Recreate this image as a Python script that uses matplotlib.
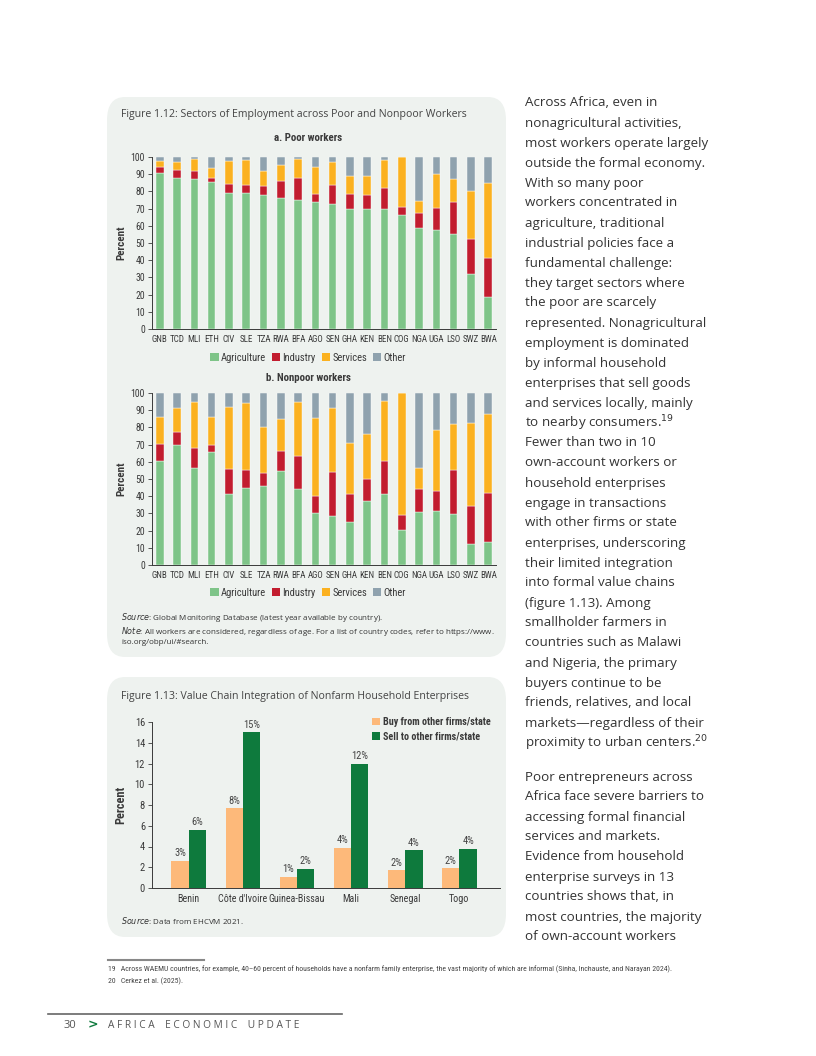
import matplotlib
matplotlib.use("Agg")
from matplotlib import pyplot as plt
from matplotlib import font_manager
from matplotlib.patches import FancyBboxPatch, Patch
import numpy as np

W, H = 816, 1056

# ---- data ----
countries = ["GNB", "TCD", "MLI", "ETH", "CIV", "SLE", "TZA", "RWA", "BFA", "AGO",
             "SEN", "GHA", "KEN", "BEN", "COG", "NGA", "UGA", "LSO", "SWZ", "BWA"]

# poor workers, shares in percent
poor_agri = [90.5, 88, 87.5, 85.5, 79, 79, 78, 76, 75, 74, 72.5, 70, 70, 69.5, 66.5, 58.5, 57.5, 55.5, 32, 18.5]
poor_ind = [3.5, 4.5, 4.5, 2.5, 5.5, 5, 5, 10, 13, 4.5, 11.5, 8.5, 8, 12.5, 4.5, 9, 13, 18.5, 20.5, 22.5]
poor_serv = [3.5, 4.5, 7, 5.5, 13, 14.5, 9, 9.5, 11, 15.5, 13, 10.5, 11, 16.5, 29, 7, 19.5, 13, 28, 44]
poor_other = [2.5, 3, 1, 6.5, 2.5, 1.5, 8, 4.5, 1, 6, 3, 11, 11, 1.5, 0, 25.5, 10, 13, 19.5, 15]

# nonpoor workers, shares in percent
nonpoor_agri = [60.5, 70, 56.5, 65.5, 41.5, 45, 46, 54.5, 44, 30, 28.5, 25, 37, 41, 20.5, 31, 31.5, 29.5, 12.5, 13.5]
nonpoor_ind = [10, 7.5, 11.5, 4.5, 14.5, 10, 7.5, 12, 19.5, 10, 25.5, 16, 13, 19.5, 8.5, 13, 11.5, 26, 22, 28.5]
nonpoor_serv = [15.5, 13.5, 27, 16, 36, 39, 26.5, 18.5, 31.5, 45.5, 37, 30, 26, 35, 71, 12.5, 35.5, 26.5, 48, 46]
nonpoor_other = [14, 9, 5, 14, 8, 6, 20, 15, 5, 14.5, 9, 29, 24, 4.5, 0, 43.5, 21.5, 18, 17.5, 12]

sectors = ["Agriculture", "Industry", "Services", "Other"]
sector_colors = ["#7ec488", "#c21d2f", "#fbb120", "#8fa2ae"]

vc_countries = ["Benin", "Côte d'Ivoire", "Guinea-Bissau", "Mali", "Senegal", "Togo"]
buy = [2.6, 7.7, 1.1, 3.9, 1.7, 1.9]
sell = [5.6, 15.0, 1.85, 12.0, 3.65, 3.8]
buy_labels = ["3%", "8%", "1%", "4%", "2%", "2%"]
sell_labels = ["6%", "15%", "2%", "12%", "4%", "4%"]

body_lines = [
    "Across Africa, even in",
    "nonagricultural activities,",
    "most workers operate largely",
    "outside the formal economy.",
    "With so many poor",
    "workers concentrated in",
    "agriculture, traditional",
    "industrial policies face a",
    "fundamental challenge:",
    "they target sectors where",
    "the poor are scarcely",
    "represented. Nonagricultural",
    "employment is dominated",
    "by informal household",
    "enterprises that sell goods",
    "and services locally, mainly",
    "to nearby consumers.$^{19}$",
    "Fewer than two in 10",
    "own-account workers or",
    "household enterprises",
    "engage in transactions",
    "with other firms or state",
    "enterprises, underscoring",
    "their limited integration",
    "into formal value chains",
    "(figure 1.13). Among",
    "smallholder farmers in",
    "countries such as Malawi",
    "and Nigeria, the primary",
    "buyers continue to be",
    "friends, relatives, and local",
    "markets\u2014regardless of their",
    "proximity to urban centers.$^{20}$",
]
body_lines2 = [
    "Poor entrepreneurs across",
    "Africa face severe barriers to",
    "accessing formal financial",
    "services and markets.",
    "Evidence from household",
    "enterprise surveys in 13",
    "countries shows that, in",
    "most countries, the majority",
    "of own-account workers",
]

_names = {f.name for f in font_manager.fontManager.ttflist}
_cond = [n for n in ["Liberation Sans Narrow", "Roboto Condensed", "Open Sans Condensed",
                     "Noto Sans Condensed", "DejaVu Sans Condensed", "Liberation Sans"] if n in _names]
COND = _cond[:1] + ["DejaVu Sans"]
BODY = ["Open Sans", "DejaVu Sans"]
DARK = "#3a3a3a"


def px_axes(fig, left, top, right, bottom):
    return fig.add_axes([left / W, 1 - bottom / H, (right - left) / W, (bottom - top) / H])


def fx(x):
    return x / W


def fy(y):
    return 1 - y / H


def panel(fig, left, top, right, bottom):
    box = FancyBboxPatch((fx(left), fy(bottom)), (right - left) / W, (bottom - top) / H,
                         boxstyle="round,pad=0,rounding_size=0.022",
                         transform=fig.transFigure, facecolor="#eef2ef",
                         edgecolor="none", zorder=-5)
    fig.patches.append(box)


def stacked(ax, agri, ind, serv, other):
    x = np.arange(len(countries))
    bottom = np.zeros(len(countries))
    for vals, col in zip([agri, ind, serv, other], sector_colors):
        ax.bar(x, vals, 0.44, bottom=bottom, color=col, edgecolor="white", linewidth=0.3)
        bottom += np.array(vals)
    ax.set_xlim(-0.45, len(countries) - 0.55)
    ax.set_ylim(0, 100)
    ax.set_yticks(range(0, 101, 10))
    ax.set_xticks(x)
    ax.set_xticklabels(countries, family=COND, fontsize=6.5, color=DARK)
    for lab in ax.get_yticklabels():
        lab.set_family(COND)
        lab.set_fontsize(7)
        lab.set_color(DARK)
    ax.tick_params(axis="x", length=0, pad=4)
    ax.tick_params(axis="y", length=3, width=0.6, color=DARK, pad=2)
    ax.set_ylabel("Percent", family=COND, fontsize=8, fontweight="bold", color=DARK, labelpad=3)
    for s in ["top", "right"]:
        ax.spines[s].set_visible(False)
    for s in ["left", "bottom"]:
        ax.spines[s].set_linewidth(0.7)
        ax.spines[s].set_color(DARK)
    ax.set_facecolor("none")


def main():
    fig = plt.figure(figsize=(W / 100, H / 100), dpi=100)
    fig.patch.set_facecolor("white")

    # ---- Figure 1.12 ----
    panel(fig, 107, 97, 506, 657)
    fig.text(fx(121), fy(115), "Figure 1.12: Sectors of Employment across Poor and Nonpoor Workers",
             family=BODY, fontsize=7.6, color="#444444", va="center")
    fig.text(fx(308), fy(138), "a. Poor workers", family=COND, fontsize=7.8,
             fontweight="bold", color=DARK, ha="center", va="center")

    ax1 = px_axes(fig, 152, 157, 496, 329)
    stacked(ax1, poor_agri, poor_ind, poor_serv, poor_other)

    handles = [Patch(facecolor=c, edgecolor="none", label=l) for c, l in zip(sector_colors, sectors)]
    for ly in (358, 593):
        fig.legend(handles=handles, loc="center", bbox_to_anchor=(fx(308), fy(ly)), ncol=4,
                   frameon=False, prop={"family": COND, "size": 7.6}, handlelength=0.8,
                   handleheight=0.8, handletextpad=0.2, columnspacing=0.55, labelcolor=DARK)

    fig.text(fx(308), fy(378), "b. Nonpoor workers", family=COND, fontsize=7.8,
             fontweight="bold", color=DARK, ha="center", va="center")
    ax2 = px_axes(fig, 152, 393, 496, 565)
    stacked(ax2, nonpoor_agri, nonpoor_ind, nonpoor_serv, nonpoor_other)

    fig.text(fx(121), fy(617), "$\\it{Source}$: Global Monitoring Database (latest year available by country).",
             family=BODY, fontsize=5.8, color="#333333", va="center")
    fig.text(fx(121), fy(631), "$\\it{Note}$: All workers are considered, regardless of age. For a list of country codes, refer to https://www.",
             family=BODY, fontsize=5.8, color="#333333", va="center")
    fig.text(fx(121), fy(642), "iso.org/obp/ui/#search.",
             family=BODY, fontsize=5.8, color="#333333", va="center")

    # ---- Figure 1.13 ----
    panel(fig, 107, 677, 506, 937)
    fig.text(fx(121), fy(697), "Figure 1.13: Value Chain Integration of Nonfarm Household Enterprises",
             family=BODY, fontsize=7.6, color="#444444", va="center")

    ax3 = px_axes(fig, 152, 722, 500, 888)
    x = np.arange(len(vc_countries))
    bw = 0.32
    b1 = ax3.bar(x - bw / 2, buy, bw, color="#fdb97a", label="Buy from other firms/state")
    b2 = ax3.bar(x + bw / 2, sell, bw, color="#0e7a3d", label="Sell to other firms/state")
    for rect, lab in zip(b1, buy_labels):
        ax3.text(rect.get_x() + rect.get_width() / 2, rect.get_height() + 0.25, lab,
                 ha="center", va="bottom", family=COND, fontsize=7.6, color="#444444")
    for rect, lab in zip(b2, sell_labels):
        ax3.text(rect.get_x() + rect.get_width() / 2, rect.get_height() + 0.25, lab,
                 ha="center", va="bottom", family=COND, fontsize=7.6, color="#444444")
    ax3.set_xlim(-0.68, len(vc_countries) - 0.25)
    ax3.set_ylim(0, 16)
    ax3.set_yticks(range(0, 17, 2))
    ax3.set_xticks(x)
    ax3.set_xticklabels(vc_countries, family=COND, fontsize=7.2, color=DARK)
    for lab in ax3.get_yticklabels():
        lab.set_family(COND)
        lab.set_fontsize(7.6)
        lab.set_color(DARK)
    ax3.tick_params(axis="x", length=0, pad=4)
    ax3.tick_params(axis="y", length=3, width=0.6, color=DARK, pad=2)
    ax3.set_ylabel("Percent", family=COND, fontsize=8.8, fontweight="bold", color=DARK, labelpad=5)
    for s in ["top", "right"]:
        ax3.spines[s].set_visible(False)
    for s in ["left", "bottom"]:
        ax3.spines[s].set_linewidth(0.7)
        ax3.spines[s].set_color(DARK)
    ax3.set_facecolor("none")
    ax3.legend(loc="upper left", bbox_to_anchor=(fx(372), fy(717)), bbox_transform=fig.transFigure,
               frameon=False, prop={"family": COND, "size": 7.3, "weight": "bold"},
               handlelength=0.8, handleheight=0.8, handletextpad=0.3, labelspacing=0.45,
               labelcolor=DARK, borderaxespad=0, borderpad=0)

    fig.text(fx(121), fy(921), "$\\it{Source}$: Data from EHCVM 2021.",
             family=BODY, fontsize=5.8, color="#333333", va="center")

    # ---- body text column ----
    y = 103
    for line in body_lines:
        fig.text(fx(525), fy(y), line, family=BODY, fontsize=9.6, color="#333333", va="center")
        y += 20
    y += 14
    for line in body_lines2:
        fig.text(fx(525), fy(y), line, family=BODY, fontsize=9.6, color="#333333", va="center")
        y += 20

    # ---- footnotes ----
    fig.add_artist(plt.Line2D([fx(108), fx(204)], [fy(960), fy(960)], color="#888888", lw=1.5))
    fig.text(fx(108), fy(969), "19   Across WAEMU countries, for example, 40\u201360 percent of households have a nonfarm family enterprise, the vast majority of which are informal (Sinha, Inchauste, and Narayan 2024).",
             family=COND, fontsize=5.6, color="#444444", va="center")
    fig.text(fx(108), fy(981), "20   Cerkez et al. (2025).",
             family=COND, fontsize=5.6, color="#444444", va="center")

    # ---- footer ----
    fig.add_artist(plt.Line2D([fx(48), fx(342)], [fy(1014), fy(1014)], color="#666666", lw=1.2))
    fig.text(fx(64), fy(1025), "30", family=BODY, fontsize=8, color="#555555", va="center")
    fig.text(fx(88), fy(1025), ">", family="DejaVu Sans", fontsize=9, fontweight="bold",
             color="#0e7a3d", va="center")
    fig.text(fx(108), fy(1025), " ".join("AFRICA ECONOMIC UPDATE").replace("   ", "    "),
             family=BODY, fontsize=7.3, color="#555555", va="center")

    fig.savefig("out.png", dpi=100)


if __name__ == "__main__":
    main()
